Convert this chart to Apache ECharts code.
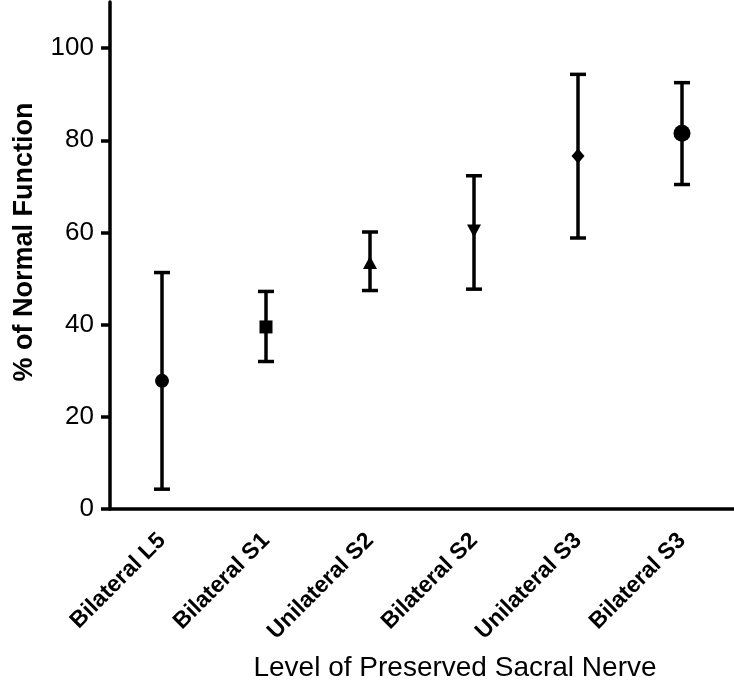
<!DOCTYPE html>
<html>
<head>
<meta charset="utf-8">
<script src="https://cdn.jsdelivr.net/npm/echarts@6/dist/echarts.min.js"></script>
<style>
html,body{margin:0;padding:0;background:#fff;}
#chart{width:734px;height:691px;}
</style>
</head>
<body>
<div id="chart"></div>
<script>
// ---- data ----
var categories = ['Bilateral L5', 'Bilateral S1', 'Unilateral S2', 'Bilateral S2', 'Unilateral S3', 'Bilateral S3'];
var means = [27.8, 39.5, 53.5, 60.3, 76.6, 81.5];
var lows = [4.3, 32.0, 47.4, 47.7, 58.8, 70.4];
var highs = [51.3, 47.2, 60.1, 72.3, 94.3, 92.5];
var yTicks = [0, 20, 40, 60, 80, 100];
var yTitle = '% of Normal Function';
var xTitle = 'Level of Preserved Sacral Nerve';

// ---- marker styles ----
var markerSymbols = ['circle', 'rect', 'triangle', 'triangle', 'diamond', 'circle'];
var markerRotate = [0, 0, 0, 180, 0, 0];
var markerSizes = [14, 13, [14, 13], [14, 13], [13, 15], 17];

var FONT = '"Liberation Sans", Arial, Helvetica, sans-serif';

var errData = categories.map(function (c, i) { return [i, lows[i], highs[i]]; });
var ptData = categories.map(function (c, i) {
  return {
    value: [i, means[i]],
    symbol: markerSymbols[i],
    symbolRotate: markerRotate[i],
    symbolSize: markerSizes[i]
  };
});

var chart = echarts.init(document.getElementById('chart'));
chart.setOption({
  animation: false,
  backgroundColor: '#fff',
  grid: { left: 110, right: 0, top: 2, bottom: 182, containLabel: false },
  xAxis: {
    type: 'category',
    data: categories,
    boundaryGap: true,
    axisLine: { lineStyle: { color: '#000', width: 3.5 } },
    axisTick: { alignWithLabel: true, length: 10, lineStyle: { color: '#000', width: 3.5 } },
    axisLabel: {
      rotate: 45, interval: 0, margin: 28,
      color: '#000', fontFamily: FONT, fontWeight: 'bold', fontSize: 23
    },
    splitLine: { show: false }
  },
  yAxis: {
    type: 'value',
    min: 0, max: 110, interval: 20,
    axisLine: { show: true, lineStyle: { color: '#000', width: 3.5 } },
    axisTick: { show: true, length: 9, customValues: yTicks, lineStyle: { color: '#000', width: 3.5 } },
    axisLabel: { customValues: yTicks, margin: 16, color: '#000', fontFamily: FONT, fontSize: 26 },
    splitLine: { show: false }
  },
  graphic: [
    {
      type: 'text', x: 25, y: 242, rotation: Math.PI / 2,
      style: { text: yTitle, fill: '#000', font: 'bold 27px ' + FONT, textAlign: 'center', textVerticalAlign: 'middle' }
    },
    {
      type: 'text', x: 455, y: 668,
      style: { text: xTitle, fill: '#000', font: '28px ' + FONT, textAlign: 'center', textVerticalAlign: 'middle' }
    }
  ],
  series: [
    {
      type: 'custom',
      data: errData,
      renderItem: function (params, api) {
        var x = api.value(0);
        var lo = api.coord([x, api.value(1)]);
        var hi = api.coord([x, api.value(2)]);
        var cap = 8;
        var st = { stroke: '#000', lineWidth: 3.5 };
        return {
          type: 'group',
          children: [
            { type: 'line', shape: { x1: lo[0], y1: lo[1], x2: hi[0], y2: hi[1] }, style: st },
            { type: 'line', shape: { x1: lo[0] - cap, y1: lo[1], x2: lo[0] + cap, y2: lo[1] }, style: st },
            { type: 'line', shape: { x1: hi[0] - cap, y1: hi[1], x2: hi[0] + cap, y2: hi[1] }, style: st }
          ]
        };
      },
      z: 2
    },
    {
      type: 'scatter',
      data: ptData,
      itemStyle: { color: '#000', opacity: 1 },
      z: 3
    }
  ]
});
</script>
</body>
</html>
